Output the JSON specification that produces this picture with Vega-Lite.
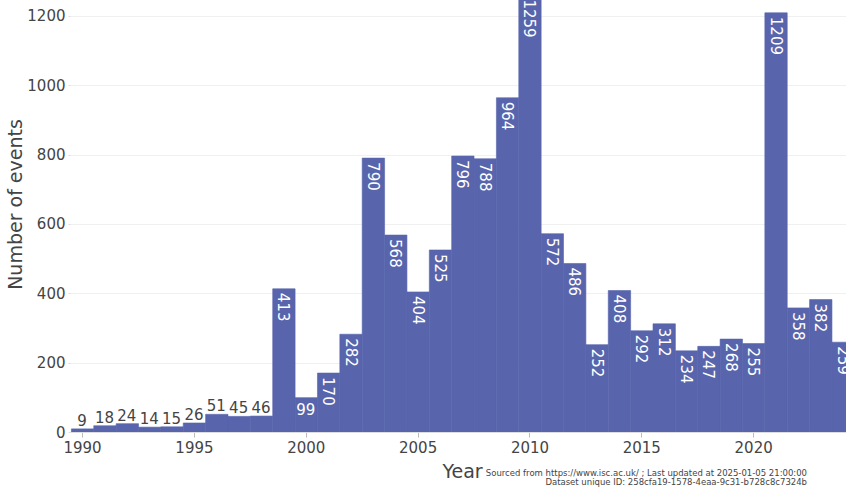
{
  "$schema": "https://vega.github.io/schema/vega-lite/v6.json",
  "autosize": "none",
  "width": 776,
  "height": 432,
  "padding": {"left": 70, "top": 0, "right": 0, "bottom": 55},
  "background": "white",
  "config": {
    "font": "DejaVu Sans",
    "view": {"stroke": null},
    "axis": {"labelFont": "DejaVu Sans", "titleFont": "DejaVu Sans"}
  },
  "title": {
    "text": ["Sourced from https://www.isc.ac.uk/ ; Last updated at 2025-01-05 21:00:00", "Dataset unique ID: 258cfa19-1578-4eaa-9c31-b728c8c7324b"],
    "orient": "bottom",
    "anchor": "end",
    "align": "right",
    "frame": "group",
    "fontSize": 8.5,
    "fontWeight": "normal",
    "color": "#444",
    "lineHeight": 9,
    "dx": -39,
    "dy": -16
  },
  "data": {
    "values": [
      {"year": 1990, "events": 9},
      {"year": 1991, "events": 18},
      {"year": 1992, "events": 24},
      {"year": 1993, "events": 14},
      {"year": 1994, "events": 15},
      {"year": 1995, "events": 26},
      {"year": 1996, "events": 51},
      {"year": 1997, "events": 45},
      {"year": 1998, "events": 46},
      {"year": 1999, "events": 413},
      {"year": 2000, "events": 99},
      {"year": 2001, "events": 170},
      {"year": 2002, "events": 282},
      {"year": 2003, "events": 790},
      {"year": 2004, "events": 568},
      {"year": 2005, "events": 404},
      {"year": 2006, "events": 525},
      {"year": 2007, "events": 796},
      {"year": 2008, "events": 788},
      {"year": 2009, "events": 964},
      {"year": 2010, "events": 1259},
      {"year": 2011, "events": 572},
      {"year": 2012, "events": 486},
      {"year": 2013, "events": 252},
      {"year": 2014, "events": 408},
      {"year": 2015, "events": 292},
      {"year": 2016, "events": 312},
      {"year": 2017, "events": 234},
      {"year": 2018, "events": 247},
      {"year": 2019, "events": 268},
      {"year": 2020, "events": 255},
      {"year": 2021, "events": 1209},
      {"year": 2022, "events": 358},
      {"year": 2023, "events": 382},
      {"year": 2024, "events": 259}
    ]
  },
  "layer": [
    {
      "mark": {"type": "bar", "color": "#5865ac", "stroke": "#5865ac", "strokeWidth": 0.6, "clip": true, "binSpacing": 0},
      "encoding": {
        "x": {
          "field": "year",
          "type": "quantitative",
          "bin": {"step": 1, "extent": [1989.5, 2024.5], "nice": false},
          "scale": {"domain": [1989.46, 2024.15], "nice": false, "zero": false},
          "axis": {
            "values": [1990, 1995, 2000, 2005, 2010, 2015, 2020],
            "format": "d",
            "title": "Year",
            "titleFontSize": 19,
            "titleFontWeight": "normal",
            "titleColor": "#444",
            "titleBaseline": "alphabetic",
            "titleY": 45,
            "titleX": 392,
            "titleAnchor": "start",
            "titleAlign": "center",
            "labelFontSize": 15,
            "labelColor": "#444",
            "labelPadding": 3,
            "labelFlush": false,
            "tickSize": 5,
            "tickColor": "#bbb",
            "domainColor": "#ddd",
            "grid": false
          }
        },
        "y": {
          "field": "events",
          "type": "quantitative",
          "scale": {"domain": [0, 1246], "nice": false},
          "axis": {
            "values": [0, 200, 400, 600, 800, 1000, 1200],
            "format": "d",
            "title": "Number of events",
            "titleFontSize": 19,
            "titleFontWeight": "normal",
            "titleColor": "#444",
            "titleAngle": -90,
            "titleBaseline": "middle",
            "titleX": -55,
            "titleY": 204,
            "titleAnchor": "start",
            "titleAlign": "center",
            "labelFontSize": 15,
            "labelColor": "#444",
            "labelPadding": 3,
            "tickSize": 2,
            "tickColor": "#ddd",
            "domain": false,
            "gridColor": "#f0f0f0",
            "labelFlush": false
          }
        }
      }
    },
    {
      "transform": [{"filter": "datum.events >= 150"}],
      "mark": {"type": "text", "angle": 90, "align": "left", "baseline": "middle", "dx": 4, "fontSize": 15, "color": "white"},
      "encoding": {
        "x": {"field": "year", "type": "quantitative"},
        "y": {"field": "events", "type": "quantitative"},
        "text": {"field": "events", "type": "quantitative"}
      }
    },
    {
      "transform": [{"filter": "datum.events >= 90 && datum.events < 150"}],
      "mark": {"type": "text", "align": "center", "baseline": "top", "dy": 5, "fontSize": 15, "color": "white"},
      "encoding": {
        "x": {"field": "year", "type": "quantitative"},
        "y": {"field": "events", "type": "quantitative"},
        "text": {"field": "events", "type": "quantitative"}
      }
    },
    {
      "transform": [{"filter": "datum.events < 90"}],
      "mark": {"type": "text", "align": "center", "baseline": "alphabetic", "dy": -3, "fontSize": 15, "color": "#444"},
      "encoding": {
        "x": {"field": "year", "type": "quantitative"},
        "y": {"field": "events", "type": "quantitative"},
        "text": {"field": "events", "type": "quantitative"}
      }
    }
  ]
}
